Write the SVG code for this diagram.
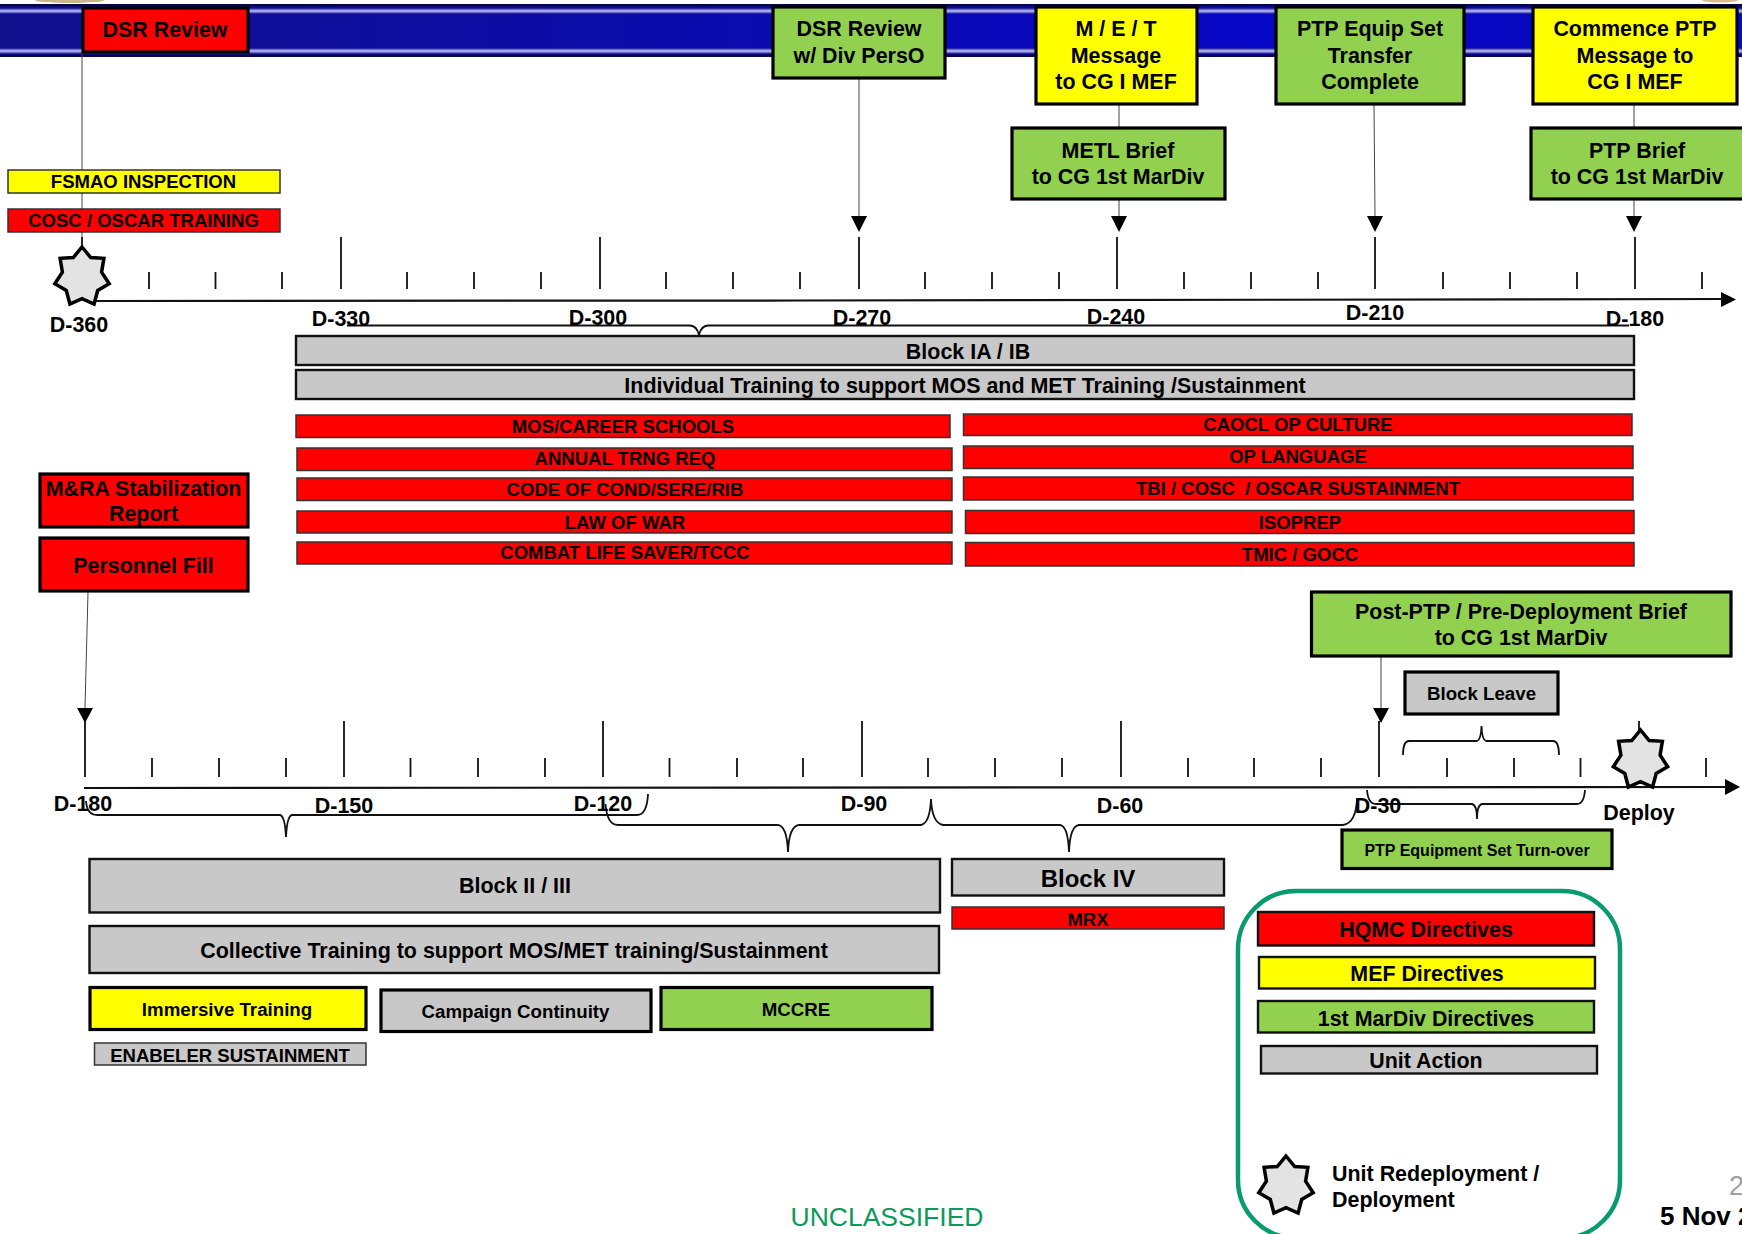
<svg xmlns="http://www.w3.org/2000/svg" xmlns:xlink="http://www.w3.org/1999/xlink" width="1742" height="1234" viewBox="0 0 1742 1234">
<style>
text{font-family:"Liberation Sans",Arial,sans-serif;font-weight:bold;fill:#000;text-anchor:middle;white-space:pre}
.r{fill:#f00}.y{fill:#ff0}.g{fill:#92d050}.a{fill:#c8c8c8}
.k3{stroke:#000;stroke-width:3.2}.k2{stroke:#111;stroke-width:2.4}.k1{stroke:#333;stroke-width:1.5}
.f21{font-size:21.45px}.f19{font-size:18.7px}.f18{font-size:18.55px}.f22{font-size:21.4px}
.tick{stroke:#111;stroke-width:1.8;fill:none}
.thin{stroke:#444;stroke-width:1;fill:none}
.axis{stroke:#111;stroke-width:2.2;fill:none}
.brace{stroke:#111;stroke-width:1.8;fill:none}
.star{fill:#e3e3e3;stroke:#000;stroke-width:3.5;stroke-linejoin:miter}
</style>
<defs>
<linearGradient id="bandG" x1="0" x2="1" y1="0" y2="0"><stop offset="0" stop-color="#10108c"/><stop offset="0.45" stop-color="#0a0ab0"/><stop offset="0.75" stop-color="#0606c8"/><stop offset="1" stop-color="#0a0ab8"/></linearGradient>
<linearGradient id="stripe" x1="0" x2="0" y1="0" y2="1"><stop offset="0" stop-color="#0a0a90"/><stop offset="0.5" stop-color="#c4c4ff"/><stop offset="1" stop-color="#0a0a90"/></linearGradient>
<polygon id="star7" class="star" points="0,-30 8.7,-19.5 21.9,-18.7 19.6,-4.8 27.2,6.7 15.7,13.5 12.1,27 0,21.6 -12.1,27 -15.7,13.5 -27.2,6.7 -19.6,-4.8 -21.9,-18.7 -8.7,-19.5"/>
</defs>
<g id="banner">
<rect x="0" y="4" width="1742" height="53" fill="url(#bandG)"/>
<rect x="0" y="4" width="1742" height="2.500" fill="#06064a"/>
<rect x="0" y="54.500" width="1742" height="2.500" fill="#06064a"/>
<rect x="0" y="8" width="1742" height="6" fill="url(#stripe)"/>
<rect x="0" y="48" width="1742" height="6" fill="url(#stripe)"/>
<ellipse cx="70" cy="0" rx="35" ry="3" fill="#c9b68c"/>
<ellipse cx="1720" cy="0" rx="18" ry="2.500" fill="#d8bb8a"/>
</g>
<g id="connectors">
<path class="thin" d="M82,52V237"/>
<path class="thin" d="M859,79V216" />
<path class="thin" d="M1119,105V127"/>
<path class="thin" d="M1119,200V216"/>
<path class="thin" d="M1374,105L1375,216"/>
<path class="thin" d="M1634,105V127"/>
<path class="thin" d="M1634,200V216"/>
<path class="thin" d="M88,592L85,708"/>
<path class="thin" d="M1381,650V708" stroke="#000"/>
<g fill="#000">
<path d="M851,216H867L859,232Z"/>
<path d="M1111,216H1127L1119,232Z"/>
<path d="M1367,216H1383L1375,232Z"/>
<path d="M1626,216H1642L1634,232Z"/>
<path d="M77,708H93L85,723Z"/>
<path d="M1373,708H1389L1381,723Z"/>
<path d="M1721,292L1736,299.500L1721,307Z"/>
<path d="M1725,779L1740,787L1725,795Z"/>
</g>
<path class="axis" d="M95,301L800,300.500L1725,299"/>
<path class="axis" d="M84,788L1728,787"/>
<path class="tick" d="M82,237V248M341,237V289M600,237V289M859,237V289M1117,237V289M1375,237V289M1635,237V289M149,272V289M215.500,272V289M282,272V289M407,272V289M474,272V289M541,272V289M666,272V289M733,272V289M800,272V289M925,272V289M992,272V289M1059,272V289M1184,272V289M1251,272V289M1318,272V289M1443,272V289M1510,272V289M1577,272V289M1702,272V289"/>
<path class="tick" d="M85,721V777M344,721V777M603,721V777M862,721V777M1121,721V777M1379,721V777M152,758V777M219,758V777M286,758V777M410.500,758V777M478,758V777M545,758V777M669.500,758V777M737,758V777M803,758V777M928,758V777M995,758V777M1062,758V777M1188,758V777M1254,758V777M1321,758V777M1447,758V777M1514,758V777M1580.500,758V777M1706,758V777M1639,721V735"/>
<path class="brace" d="M347,325.500H690Q697,326 699,335Q701,326 708,325.500H1629"/>
<path class="brace" d="M648,794Q647,815 637,815H292Q287,816 286,837Q285,816 280,815H97Q87,815 86,801"/>
<path class="brace" d="M605.500,804Q607,825 618,825H778Q787,826 788,852Q789,826 799,825H921Q930,823 931,799Q932,823 943,825H1060Q1068,826 1069,852Q1070,826 1079,825H1343Q1356,823 1357,799"/>
<path class="brace" d="M1367,790Q1368,804 1376,804H1472Q1477,805 1477,819Q1477,805 1482,804H1577Q1584,804 1585,790"/>
<path class="brace" d="M1403,755Q1403,741 1409,741H1477Q1481,740 1481.500,726Q1482,740 1486,741H1553Q1559,741 1559,755"/>
</g>
<g id="dsr-review"><rect class="r k3" x="83" y="8" width="165" height="44"/><text class="f21" x="165" y="37">DSR Review</text></g>
<g id="dsr-review-div"><rect class="g k3" x="773" y="7" width="172" height="71"/><text class="f21" x="859" y="36">DSR Review</text><text class="f21" x="859" y="63">w/ Div PersO</text></g>
<g id="met-message"><rect class="y k3" x="1036" y="7" width="161" height="97"/><text class="f21" x="1116" y="36">M / E / T</text><text class="f21" x="1116" y="63">Message</text><text class="f21" x="1116" y="89">to CG I MEF</text></g>
<g id="ptp-equip"><rect class="g k3" x="1276" y="7" width="188" height="97"/><text class="f21" x="1370" y="36">PTP Equip Set</text><text class="f21" x="1370" y="63">Transfer</text><text class="f21" x="1370" y="89">Complete</text></g>
<g id="commence-ptp"><rect class="y k3" x="1533" y="7" width="204" height="97"/><text class="f21" x="1635" y="36">Commence PTP</text><text class="f21" x="1635" y="63">Message to</text><text class="f21" x="1635" y="89">CG I MEF</text></g>
<g id="metl-brief"><rect class="g k3" x="1012" y="128" width="213" height="71"/><text class="f21" x="1118" y="158">METL Brief</text><text class="f21" x="1118" y="184">to CG 1st MarDiv</text></g>
<g id="ptp-brief"><rect class="g k3" x="1531" y="128" width="214" height="71"/><text class="f21" x="1637" y="158">PTP Brief</text><text class="f21" x="1637" y="184">to CG 1st MarDiv</text></g>
<g id="fsmao"><rect class="y k1" x="8" y="170" width="272" height="23"/><text class="f18" x="143.500" y="188">FSMAO INSPECTION</text></g>
<g id="cosc"><rect class="r k1" x="8" y="209" width="272" height="23"/><text class="f18" x="143.500" y="227">COSC / OSCAR TRAINING</text></g>
<g id="star-d360"><use xlink:href="#star7" href="#star7" x="82" y="277"/></g>
<g id="timeline-labels-1" class="f21">
<text x="79" y="332">D-360</text><text x="341" y="326">D-330</text><text x="598" y="325">D-300</text><text x="862" y="325">D-270</text><text x="1116" y="324">D-240</text><text x="1375" y="320">D-210</text><text x="1635" y="326">D-180</text>
</g>
<g id="block-ia"><rect class="a k2" x="296" y="336" width="1338" height="29"/><text class="f21" x="968" y="359">Block IA / IB</text></g>
<g id="individual"><rect class="a k2" x="296" y="370" width="1338" height="29"/><text class="f21" x="965" y="393">Individual Training to support MOS and MET Training /Sustainment</text></g>
<g id="mos"><rect class="r k1" x="296" y="415" width="654" height="22.500"/><text class="f18" x="623" y="433">MOS/CAREER SCHOOLS</text></g>
<g id="annual"><rect class="r k1" x="297" y="448" width="655" height="22.500"/><text class="f18" x="625" y="465">ANNUAL TRNG REQ</text></g>
<g id="code"><rect class="r k1" x="297" y="478" width="655" height="22.500"/><text class="f18" x="625" y="496">CODE OF COND/SERE/RIB</text></g>
<g id="law"><rect class="r k1" x="297" y="511" width="655" height="22"/><text class="f18" x="625" y="529">LAW OF WAR</text></g>
<g id="combat"><rect class="r k1" x="297" y="542" width="655" height="22"/><text class="f18" x="625" y="559">COMBAT LIFE SAVER/TCCC</text></g>
<g id="caocl"><rect class="r k1" x="963.500" y="414" width="668.500" height="21.500"/><text class="f18" x="1298" y="431">CAOCL OP CULTURE</text></g>
<g id="op-language"><rect class="r k1" x="963.500" y="446" width="669.500" height="22.500"/><text class="f18" x="1298" y="463">OP LANGUAGE</text></g>
<g id="tbi"><rect class="r k1" x="963.500" y="477" width="669.500" height="23"/><text class="f18" x="1298" y="495">TBI / COSC  / OSCAR SUSTAINMENT</text></g>
<g id="isoprep"><rect class="r k1" x="965.500" y="510.500" width="668.500" height="23"/><text class="f18" x="1300" y="529">ISOPREP</text></g>
<g id="tmic"><rect class="r k1" x="965.500" y="542.500" width="668.500" height="23.500"/><text class="f18" x="1300" y="561">TMIC / GOCC</text></g>
<g id="mra"><rect class="r k3" x="40" y="474" width="208" height="53"/><text class="f21" x="143.500" y="496">M&amp;RA Stabilization</text><text class="f21" x="143.500" y="521">Report</text></g>
<g id="personnel"><rect class="r k3" x="40" y="538" width="208" height="53"/><text class="f21" x="143.500" y="573">Personnel Fill</text></g>
<g id="post-ptp"><rect class="g k3" x="1311.500" y="592" width="419.500" height="64"/><text class="f21" x="1521" y="619">Post-PTP / Pre-Deployment Brief</text><text class="f21" x="1521" y="645">to CG 1st MarDiv</text></g>
<g id="block-leave"><rect class="a k3" x="1405" y="672" width="153" height="42"/><text class="f19" x="1481.500" y="700">Block Leave</text></g>
<g id="star-deploy"><use xlink:href="#star7" href="#star7" x="1640.500" y="760"/></g>
<g id="timeline-labels-2" class="f21">
<text x="83" y="811">D-180</text><text x="344" y="813">D-150</text><text x="603" y="811">D-120</text><text x="864" y="811">D-90</text><text x="1120" y="813">D-60</text><text x="1378" y="813">D-30</text><text x="1639" y="820">Deploy</text>
</g>
<g id="block-2"><rect class="a k2" x="89.500" y="859" width="850.500" height="53.500"/><text class="f21" x="515" y="893">Block II / III</text></g>
<g id="collective"><rect class="a k2" x="89.500" y="926" width="849.500" height="47"/><text class="f21" x="514" y="958">Collective Training to support MOS/MET training/Sustainment</text></g>
<g id="immersive"><rect class="y k3" x="90" y="987.500" width="276" height="42"/><text class="f19" x="227" y="1016">Immersive Training</text></g>
<g id="campaign"><rect class="a k3" x="381" y="990" width="270" height="41.500"/><text class="f19" x="515.500" y="1018">Campaign Continuity</text></g>
<g id="mccre"><rect class="g k3" x="661" y="987.500" width="271" height="42"/><text class="f19" x="796" y="1016">MCCRE</text></g>
<g id="enabeler"><rect class="a k1" x="94.500" y="1043" width="271.500" height="22"/><text class="f18" x="230" y="1062">ENABELER SUSTAINMENT</text></g>
<g id="ptp-turnover"><rect class="g k3" x="1342" y="830" width="270" height="38.500"/><text x="1477" y="856" style="font-size:16px">PTP Equipment Set Turn-over</text></g>
<g id="block-iv"><rect class="a k2" x="952" y="859" width="272" height="36.500"/><text x="1088" y="887" style="font-size:24px">Block IV</text></g>
<g id="mrx"><rect class="r k1" x="952" y="907" width="272" height="22"/><text class="f18" x="1088" y="926">MRX</text></g>
<g id="legend">
<rect x="1238" y="891" width="382" height="347" rx="58" ry="58" fill="none" stroke="#089b70" stroke-width="4.500"/>
<g id="legend-hqmc"><rect class="r k2" x="1258" y="912" width="336" height="33.500"/><text class="f22" x="1426" y="937">HQMC Directives</text></g>
<g id="legend-mef"><rect class="y k2" x="1259" y="957" width="336" height="31.500"/><text class="f22" x="1427" y="981">MEF Directives</text></g>
<g id="legend-mardiv"><rect class="g k2" x="1258" y="1001" width="336" height="31.500"/><text class="f22" x="1426" y="1026">1st MarDiv Directives</text></g>
<g id="legend-unit"><rect class="a k2" x="1261" y="1046" width="336" height="27.500"/><text class="f22" x="1426" y="1068">Unit Action</text></g>
<use xlink:href="#star7" href="#star7" x="1286" y="1186"/>
<text class="f21" x="1332" y="1181" style="text-anchor:start">Unit Redeployment /</text>
<text class="f21" x="1332" y="1207" style="text-anchor:start">Deployment</text>
</g>
<g id="footer">
<text x="887" y="1226" style="font-size:26.500px;font-weight:normal;fill:#0a9a5a">UNCLASSIFIED</text>
<text x="1729" y="1195" style="font-size:27px;font-weight:normal;fill:#a0a0a0;text-anchor:start">2</text>
<text x="1660" y="1225" style="font-size:26px;text-anchor:start">5 Nov 2</text>
</g>
</svg>
